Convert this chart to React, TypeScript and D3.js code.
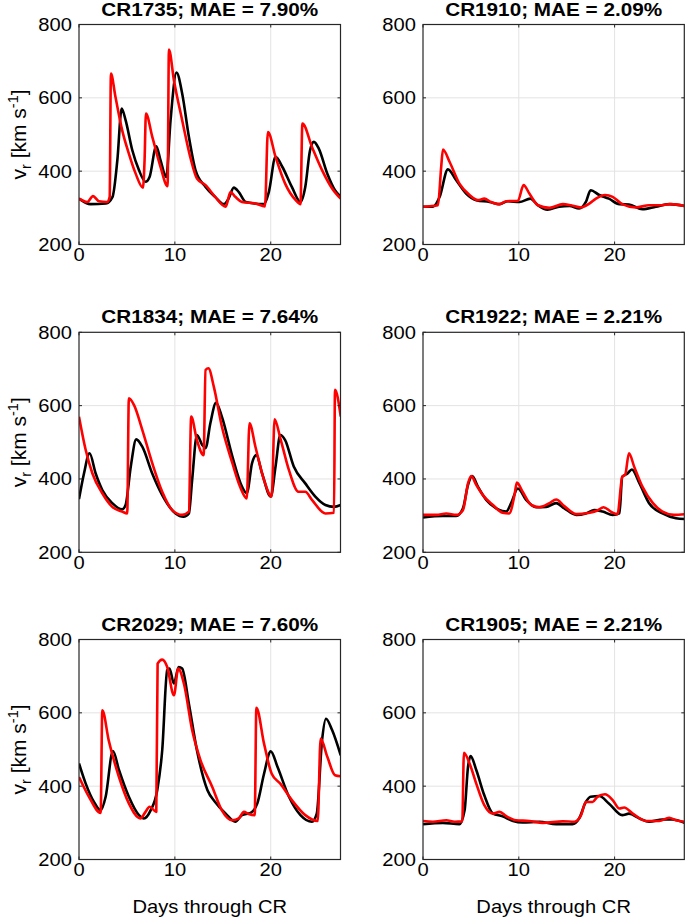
import React from "react";
import * as d3 from "d3";

// ---------- data ----------
const titles = ["CR1735; MAE = 7.90%", "CR1910; MAE = 2.09%", "CR1834; MAE = 7.64%", "CR1922; MAE = 2.21%", "CR2029; MAE = 7.60%", "CR1905; MAE = 2.21%"];
const yTicks = [200, 400, 600, 800];
const xTicks = [0, 10, 20];
const xMax = 27.2753;

type Pt = [number, number];

const cr1735Obs: Pt[] = [[0,325],[1.2,310],[2.8,312],[3.5,330],[4.0,430],[4.45,571],[4.86,539],[5.56,457],[6.25,403],[6.94,371],[7.36,384],[8.06,468],[8.5,430],[9.1,384],[9.55,539],[10.17,669],[10.76,612],[11.46,494],[12.15,403],[13.2,357],[14.2,330],[15.1,310],[15.6,325],[16.15,355],[16.67,343],[17.4,316],[19.3,310],[19.8,343],[20.5,439],[21.2,412],[22.2,357],[23.1,316],[23.6,357],[24.1,457],[24.5,480],[25.0,462],[25.9,393],[26.7,348],[27.3,330]];
const cr1735Mod: Pt[] = [[0,325],[0.87,316],[1.46,332],[2.08,318],[2.95,316],[3.2,330],[3.33,666],[3.8,603],[4.5,512],[5.2,448],[5.9,394],[6.67,355],[6.84,430],[6.98,557],[7.64,494],[8.5,412],[9.24,359],[9.38,732],[9.9,648],[10.76,539],[11.6,439],[12.3,380],[13.2,362],[14.2,330],[15.3,303],[15.8,343],[16.3,330],[17.0,316],[18.4,312],[19.4,304],[19.7,507],[20.5,439],[21.5,366],[22.6,321],[23.1,310],[23.3,530],[24.3,466],[25.35,403],[26.4,353],[27.3,325]];

const cr1910Obs: Pt[] = [[0,303],[1.04,303],[1.74,330],[2.6,405],[3.47,375],[4.5,339],[5.56,321],[6.94,316],[8.0,310],[8.85,318],[10.07,316],[11.2,325],[12.0,307],[13.0,295],[14.2,303],[15.3,305],[16.3,298],[17.0,316],[17.5,348],[18.4,335],[19.4,325],[20.5,310],[21.5,309],[22.9,296],[24.3,303],[25.7,310],[27.3,305]];
const cr1910Mod: Pt[] = [[0,303],[1.56,307],[1.9,412],[2.08,459],[2.78,425],[3.8,366],[4.86,335],[5.73,321],[6.4,325],[7.1,316],[8.0,310],[8.68,318],[9.9,319],[10.5,362],[11.1,339],[12.0,307],[13.2,300],[14.6,310],[15.45,307],[16.5,301],[17.4,312],[18.05,325],[19.0,335],[19.8,330],[20.8,310],[22.2,301],[23.6,307],[24.65,307],[25.9,310],[27.3,305]];

const cr1834Obs: Pt[] = [[0,345],[0.52,415],[1.1,470],[1.74,415],[2.43,370],[3.47,334],[4.5,317],[4.86,329],[5.4,434],[5.97,508],[6.6,488],[7.64,415],[8.68,356],[10.07,306],[10.9,297],[11.46,306],[11.8,397],[12.3,520],[12.85,493],[13.2,484],[13.7,552],[14.3,608],[14.9,570],[16.0,461],[17.0,379],[17.5,361],[18.05,443],[18.5,465],[19.1,415],[20.0,352],[20.5,434],[21.0,520],[21.5,506],[22.4,434],[23.6,388],[24.65,352],[25.7,329],[26.6,324],[27.3,329]];
const cr1834Mod: Pt[] = [[0,570],[0.7,479],[1.4,415],[2.43,361],[3.47,324],[4.5,311],[5.03,306],[5.2,620],[5.73,602],[6.6,534],[7.64,443],[8.68,365],[9.72,315],[10.76,302],[11.46,311],[11.7,570],[12.3,506],[13.0,465],[13.2,697],[13.5,702],[14.06,652],[14.9,543],[16.0,443],[16.8,379],[17.5,347],[17.78,552],[18.4,488],[19.3,397],[20.1,352],[20.4,563],[21.0,511],[21.9,424],[22.9,365],[23.6,365],[24.3,343],[25.7,306],[26.6,308],[26.7,643],[27.3,570]];

const cr1922Obs: Pt[] = [[0,295],[2.08,299],[3.47,299],[4.17,320],[4.7,384],[5.14,408],[5.73,379],[6.6,343],[7.64,320],[8.68,311],[9.2,334],[9.9,374],[10.76,343],[11.8,323],[12.85,324],[13.9,334],[14.75,320],[16.0,302],[17.0,306],[17.9,315],[18.75,311],[19.8,302],[20.5,306],[20.8,406],[21.35,415],[21.8,426],[22.6,388],[23.6,334],[25.0,306],[26.4,293],[27.3,291]];
const cr1922Mod: Pt[] = [[0,302],[1.39,302],[2.43,306],[3.47,302],[4.17,315],[4.7,388],[5.03,408],[5.56,384],[6.25,356],[7.3,329],[8.3,308],[9.0,306],[9.55,356],[9.8,390],[10.4,365],[11.3,329],[12.15,323],[13.2,334],[13.9,344],[14.75,326],[16.0,304],[17.4,308],[18.2,314],[18.85,323],[19.6,311],[20.3,304],[20.8,406],[21.1,411],[21.5,470],[22.05,433],[22.9,379],[24.0,334],[25.0,311],[26.2,302],[27.3,304]];

const cr2029Obs: Pt[] = [[0,462],[0.7,407],[1.56,357],[2.26,334],[2.78,371],[3.54,496],[4.17,444],[5.2,371],[6.25,321],[6.77,312],[7.47,334],[8.16,389],[8.68,498],[9.2,716],[9.44,721],[9.9,680],[10.4,725],[10.76,721],[11.46,625],[12.3,498],[13.4,389],[14.2,357],[15.3,325],[16.3,303],[17.0,321],[17.9,327],[18.6,353],[19.3,434],[20.0,495],[20.7,453],[21.9,371],[23.1,321],[24.3,303],[24.8,325],[25.35,525],[25.76,584],[26.4,553],[27.3,484]];
const cr2029Mod: Pt[] = [[0,425],[1.04,371],[2.26,327],[2.43,607],[3.1,525],[4.17,425],[5.2,353],[6.4,312],[6.94,330],[7.36,344],[8.06,330],[8.2,734],[8.68,745],[9.2,725],[9.9,648],[10.35,721],[10.94,680],[11.8,553],[12.67,471],[13.9,398],[14.9,334],[16.0,307],[16.67,312],[17.2,330],[17.7,324],[18.33,321],[18.5,614],[19.3,516],[20.1,434],[21.0,407],[22.2,362],[23.6,321],[24.9,305],[25.2,530],[25.9,480],[26.7,430],[27.3,427]];

const cr1905Obs: Pt[] = [[0,296],[2.08,300],[3.8,296],[4.34,334],[4.7,453],[4.97,482],[5.56,444],[6.4,375],[7.3,325],[8.3,318],[9.4,305],[10.4,301],[12.15,303],[13.9,296],[15.6,296],[16.3,312],[17.0,357],[17.5,371],[18.4,373],[19.4,353],[20.8,321],[21.5,325],[22.6,312],[23.6,303],[25.0,309],[26.0,309],[27.3,300]];
const cr1905Mod: Pt[] = [[0,305],[1.04,303],[2.43,307],[3.3,303],[4.1,304],[4.27,491],[4.86,462],[5.56,407],[6.4,348],[7.3,325],[8.0,330],[8.7,318],[9.7,307],[11.1,305],[12.5,300],[14.6,304],[15.8,303],[16.5,321],[17.0,357],[17.7,357],[18.2,371],[19.0,378],[19.8,362],[20.5,339],[21.0,342],[21.9,325],[23.3,305],[24.65,305],[25.7,314],[26.4,307],[27.3,303]];

const observed = [cr1735Obs, cr1910Obs, cr1834Obs, cr1922Obs, cr2029Obs, cr1905Obs];
const modelled = [cr1735Mod, cr1910Mod, cr1834Mod, cr1922Mod, cr2029Mod, cr1905Mod];

// ---------- layout ----------
const W = 685, H = 919;
const colX: [number, number][] = [[79, 340.5], [423, 684.3]];
const rowY = [24.5, 332.3, 639.5];
const plotH = 220;
const FONT = "'Liberation Sans', Arial, Helvetica, sans-serif";
const SX = 1.12;

function T({ x, y, anchor = "middle", size = 18, weight = "normal", children }: any) {
  return (
    <g transform={`translate(${x},${y}) scale(${SX},1)`}>
      <text x={0} y={0} textAnchor={anchor} fontSize={size} fontWeight={weight} fontFamily={FONT} fill="#000">{children}</text>
    </g>
  );
}

function Panel({ idx }: { idx: number }) {
  const col = idx % 2, row = Math.floor(idx / 2);
  const [x0, x1] = colX[col];
  const y0 = rowY[row], y1 = y0 + plotH;
  const x = d3.scaleLinear().domain([0, xMax]).range([x0, x1]);
  const y = d3.scaleLinear().domain([200, 800]).range([y1, y0]);
  const line = d3.line<Pt>().x(d => x(d[0])).y(d => y(d[1])).curve(d3.curveMonotoneX);
  const clipId = `clip${idx}`;
  const tl = 3;
  return (
    <g>
      <defs>
        <clipPath id={clipId}><rect x={x0} y={y0} width={x1 - x0} height={plotH} /></clipPath>
      </defs>
      <rect x={x0} y={y0} width={x1 - x0} height={plotH} fill="#fff" />
      {xTicks.filter(t => t > 0).map(t => (
        <line key={"gx" + t} x1={x(t)} x2={x(t)} y1={y0} y2={y1} stroke="#e3e3e3" strokeWidth={1} />
      ))}
      {yTicks.filter(t => t > 200 && t < 800).map(t => (
        <line key={"gy" + t} x1={x0} x2={x1} y1={y(t)} y2={y(t)} stroke="#e3e3e3" strokeWidth={1} />
      ))}
      <g clipPath={`url(#${clipId})`}>
        <path d={line(observed[idx]) || ""} fill="none" stroke="#000" strokeWidth={2.6} strokeLinejoin="round" />
        <path d={line(modelled[idx]) || ""} fill="none" stroke="#ff0000" strokeWidth={2.6} strokeLinejoin="round" />
      </g>
      {xTicks.map(t => (
        <g key={"tx" + t}>
          <line x1={x(t)} x2={x(t)} y1={y1} y2={y1 - tl} stroke="#262626" />
          <line x1={x(t)} x2={x(t)} y1={y0} y2={y0 + tl} stroke="#262626" />
        </g>
      ))}
      {yTicks.map(t => (
        <g key={"ty" + t}>
          <line x1={x0} x2={x0 + tl} y1={y(t)} y2={y(t)} stroke="#262626" />
          <line x1={x1} x2={x1 - tl} y1={y(t)} y2={y(t)} stroke="#262626" />
        </g>
      ))}
      <rect x={x0} y={y0} width={x1 - x0} height={plotH} fill="none" stroke="#262626" strokeWidth={1.2} />
      {xTicks.map(t => (
        <T key={"lx" + t} x={x(t)} y={y1 + 16.5}>{t}</T>
      ))}
      {yTicks.map(t => (
        <T key={"ly" + t} x={x0 - 7} y={y(t) + 6.5} anchor="end">{t}</T>
      ))}
      <T x={(x0 + x1) / 2} y={y0 - 9} weight="bold" size={18.5}>{titles[idx]}</T>
      {col === 0 && (
        <g transform={`translate(${26},${(y0 + y1) / 2}) rotate(-90)`}>
          <text x={0} y={0} textAnchor="middle" fontSize={21} fontFamily={FONT} fill="#000">
            v<tspan fontSize={14.5} dy={5}>r</tspan><tspan dy={-5}> [km s</tspan><tspan fontSize={14.5} dy={-8}>-1</tspan><tspan dy={8}>]</tspan>
          </text>
        </g>
      )}
      {row === 2 && (
        <T x={(x0 + x1) / 2} y={y1 + 53}>Days through CR</T>
      )}
    </g>
  );
}

export default function App() {
  return (
    <div style={{ position: "absolute", left: 0, top: 0 }}>
      <svg width={W} height={H} viewBox={`0 0 ${W} ${H}`} style={{ display: "block", background: "#fff" }}>
        <rect width={W} height={H} fill="#fff" />
        {titles.map((_, i) => <Panel key={i} idx={i} />)}
      </svg>
    </div>
  );
}
